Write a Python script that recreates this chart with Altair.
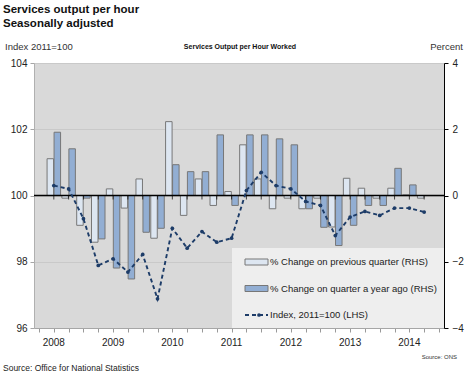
import altair as alt
import pandas as pd

years = ["2008", "2009", "2010", "2011", "2012", "2013", "2014"]
quarter_pos = list(range(1, 27))  # 2008 Q1 .. 2014 Q2
quarter_labels = [f"{y} Q{q}" for y in years for q in range(1, 5)][:26]

index_vals = [100.30, 100.20, 99.30, 97.89, 98.09, 97.69, 98.22, 96.88,
              99.01, 98.41, 98.91, 98.59, 98.71, 100.15, 100.70, 100.30,
              100.20, 99.82, 99.70, 98.79, 99.35, 99.52, 99.40, 99.62,
              99.62, 99.50]
qoq_vals = [1.11, -0.08, -0.90, -1.41, 0.20, -0.38, 0.50, -1.29,
            2.23, -0.60, 0.50, -0.30, 0.12, 1.53, 0.50, -0.40,
            -0.08, -0.40, -0.08, -0.95, 0.52, 0.22, -0.08, 0.22,
            0.02, -0.08]
yoy_vals = [1.91, 1.41, -0.08, -1.31, -2.19, -2.52, -1.11, -0.99,
            0.93, 0.72, 0.72, 1.83, -0.30, 1.83, 1.83, 1.71,
            1.53, -0.40, -0.96, -1.51, -0.90, -0.30, -0.30, 0.82,
            0.32, 0.00]

legend_labels = ["% Change on previous quarter (RHS)",
                 "% Change on quarter a year ago (RHS)",
                 "Index, 2011=100 (LHS)"]

df = pd.DataFrame({"q": quarter_pos, "label": quarter_labels,
                   "index": index_vals, "qoq": qoq_vals, "yoy": yoy_vals})
year_df = pd.DataFrame({"year": years, "q": [1 + 4 * i for i in range(len(years))]})

FONT = "Liberation Sans"
LIGHT = "#dde6f1"
DARK = "#92aed3"
EDGE = "#777777"
NAVY = "#1d3c68"

W, H = 410, 265
xs = alt.Scale(domain=[0, 27], nice=False, zero=False)
pct = alt.Scale(domain=[-4, 4], nice=False, zero=False)
idx = alt.Scale(domain=[96, 104], nice=False, zero=False)

x_axis = alt.Axis(values=list(range(0, 28)), labels=False,
                  domainColor="#a6a6a6", tickColor="#999999", tickSize=4, grid=False, title=None)

base = alt.Chart(df)

bars_qoq = base.mark_bar(width=6.5, xOffset=-3.5, fill=LIGHT, stroke=EDGE, strokeWidth=1).encode(
    x=alt.X("q:Q", scale=xs, axis=x_axis),
    y=alt.Y("qoq:Q", scale=pct,
            axis=alt.Axis(orient="right", values=[-4, -2, 0, 2, 4], domainColor="black", tickColor="black",
                          tickSize=4, labelPadding=4, labelFont=FONT, labelFontSize=10, labelColor="#222222",
                          grid=False, title=None)),
)
bars_yoy = base.mark_bar(width=6.5, xOffset=3.5, fill=DARK, stroke=EDGE, strokeWidth=1).encode(
    x=alt.X("q:Q", scale=xs, axis=x_axis),
    y=alt.Y("yoy:Q", scale=pct, axis=None),
)

zero_line = base.mark_rule(color="black", strokeWidth=1.3).encode(
    y=alt.Y("zero:Q", scale=pct, axis=None),
).transform_aggregate(n="count()").transform_calculate(zero="0")

zero_ticks = base.mark_tick(orient="vertical", size=4, thickness=1, color="black", yOffset=2).encode(
    x=alt.X("q:Q", scale=xs, axis=x_axis),
    y=alt.Y("zero:Q", scale=pct, axis=None),
).transform_calculate(zero="0")

line = base.mark_line(color=NAVY, strokeWidth=1.9, strokeDash=[4, 3],
                      point=alt.OverlayMarkDef(filled=True, color=NAVY, size=14)).encode(
    x=alt.X("q:Q", scale=xs, axis=x_axis),
    y=alt.Y("index:Q", scale=idx,
            axis=alt.Axis(orient="left", values=[96, 98, 100, 102, 104], domainColor="#b0b0b0",
                          tickColor="#a6a6a6", tickSize=4, labelPadding=3, labelFont=FONT,
                          labelFontSize=10, labelColor="#222222", grid=True, gridColor="#c9c9c9",
                          gridWidth=1, title=None)),
)

year_labels = alt.Chart(year_df).mark_text(baseline="middle", align="center", font=FONT, fontSize=10,
                                           color="#222222").encode(
    x=alt.X("q:Q", scale=xs, axis=x_axis),
    y=alt.value(H + 15),
    text="year:N",
)

one = alt.Chart(pd.DataFrame({"k": [0]}))

legend_box = one.mark_rect(fill="#eeeeee", stroke=None).encode(
    x=alt.value(198), x2=alt.value(410), y=alt.value(185), y2=alt.value(265))
leg_sym1 = one.mark_rect(fill=LIGHT, stroke=EDGE, strokeWidth=1).encode(
    x=alt.value(211), x2=alt.value(234), y=alt.value(196), y2=alt.value(202))
leg_sym2 = one.mark_rect(fill=DARK, stroke=EDGE, strokeWidth=1).encode(
    x=alt.value(211), x2=alt.value(234), y=alt.value(222.5), y2=alt.value(228.5))
leg_line = one.mark_rule(color=NAVY, strokeWidth=1.9, strokeDash=[4, 3]).encode(
    x=alt.value(211), x2=alt.value(234), y=alt.value(252))
leg_dot = one.mark_point(filled=True, color=NAVY, size=14, opacity=1).encode(
    x=alt.value(225), y=alt.value(252))


def label(text, x, y, size, bold=False, align="left", color="#111111"):
    return one.mark_text(text=text, align=align, baseline="middle", font=FONT, fontSize=size,
                         fontWeight="bold" if bold else "normal", color=color).encode(
        x=alt.value(x), y=alt.value(y))


leg_texts = [label(t, 236, yy, 9.5, color="#222222") for t, yy in zip(legend_labels, [199, 225.5, 252])]

texts = [
    label("Services output per hour", -31, -53, 11.5, bold=True),
    label("Seasonally adjusted", -31, -39, 11.5, bold=True),
    label("Index 2011=100", -29, -16, 9.5, color="#333333"),
    label("Services Output per Hour Worked", 206, -16, 7, bold=True, align="center"),
    label("Percent", 429, -16, 9.5, align="right", color="#333333"),
    label("Source: ONS", 423, 29 + H, 6, align="right", color="#333333"),
    label("Source: Office for National Statistics", -31, 40 + H, 8.5, color="#222222"),
]

chart = alt.layer(
    bars_qoq, bars_yoy, zero_line, zero_ticks, line, year_labels,
    legend_box, leg_sym1, leg_sym2, leg_line, leg_dot, *leg_texts, *texts
).resolve_scale(y="independent").properties(
    width=W, height=H,
    autosize=alt.AutoSizeParams(type="none"),
    padding={"left": 34, "top": 63, "right": 22, "bottom": 49},
    background="white",
).configure_view(fill="#d9d9d9", stroke=None)

chart.save("out.html", embed_options={"renderer": "svg", "actions": False})
